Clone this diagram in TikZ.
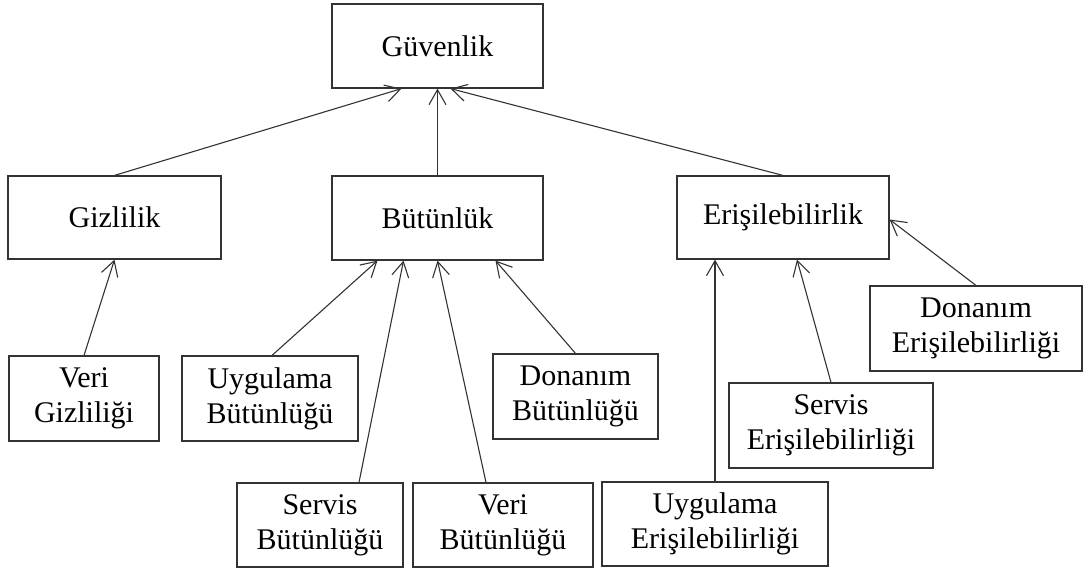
\documentclass[tikz,border=0pt]{standalone}
\usepackage{fontspec}
\setmainfont{Liberation Serif}
\usetikzlibrary{arrows.meta}
\begin{document}
\begin{tikzpicture}[x=0.5pt,y=-0.5pt,
  box/.style={draw=black!80, line width=0.6pt, inner sep=0pt, align=center,
    font=\fontsize{15pt}{17.5pt}\selectfont},
  link/.style={draw=black!80, line width=0.55pt,
    -{Straight Barb[length=7.5pt,width=8.5pt,line width=0.55pt]}}]
  \useasboundingbox[fill=white] (0,0) rectangle (1088,570);

  % top level
  \node[box, minimum width=105.5pt, minimum height=42pt] (guv) at (437.5,46) {Güvenlik};

  % second level
  \node[box, minimum width=106.5pt, minimum height=41.5pt] (giz) at (114.5,217.5) {Gizlilik};
  \node[box, minimum width=105.5pt, minimum height=42pt] (but) at (437.5,218) {Bütünlük};
  \node[box, minimum width=106pt, minimum height=41.5pt] (eri) at (783,217.5) {Erişilebilirlik};

  % leaves
  \node[box, minimum width=75pt, minimum height=42.5pt] (vgiz) at (84,398.5) {Veri\\Gizliliği};
  \node[box, minimum width=88pt, minimum height=42.5pt] (ubut) at (270,398.5) {Uygulama\\Bütünlüğü};
  \node[box, minimum width=82.5pt, minimum height=42.5pt] (dbut) at (575.5,396.5) {Donanım\\Bütünlüğü};
  \node[box, minimum width=83pt, minimum height=42pt] (sbut) at (320,525) {Servis\\Bütünlüğü};
  \node[box, minimum width=90pt, minimum height=42pt] (vbut) at (503,525) {Veri\\Bütünlüğü};
  \node[box, minimum width=113pt, minimum height=42pt] (ueri) at (715,524) {Uygulama\\Erişilebilirliği};
  \node[box, minimum width=102pt, minimum height=42.5pt] (seri) at (831,425.5) {Servis\\Erişilebilirliği};
  \node[box, minimum width=106pt, minimum height=42.5pt] (deri) at (976,328.5) {Donanım\\Erişilebilirliği};

  % connectors into the top box
  \draw[link] (giz.north) -- ([xshift=-18pt]guv.south);
  \draw[link] (but.north) -- (guv.south);
  \draw[link] (eri.north) -- ([xshift=6.5pt]guv.south);

  % connectors into the second level
  \draw[link] (vgiz.north) -- (giz.south);
  \draw[link] ([xshift=1pt]ubut.north) -- ([xshift=-30pt]but.south);
  \draw[link] ([xshift=19.5pt]sbut.north) -- ([xshift=-17pt]but.south);
  \draw[link] ([xshift=-8.5pt]vbut.north) -- (but.south);
  \draw[link] (dbut.north) -- ([xshift=29pt]but.south);
  \draw[link] (ueri.north) -- ([xshift=-34pt]eri.south);
  \draw[link] (seri.north) -- ([xshift=7pt]eri.south);
  \draw[link] (deri.north) -- ([yshift=-1pt]eri.east);
\end{tikzpicture}
\end{document}
